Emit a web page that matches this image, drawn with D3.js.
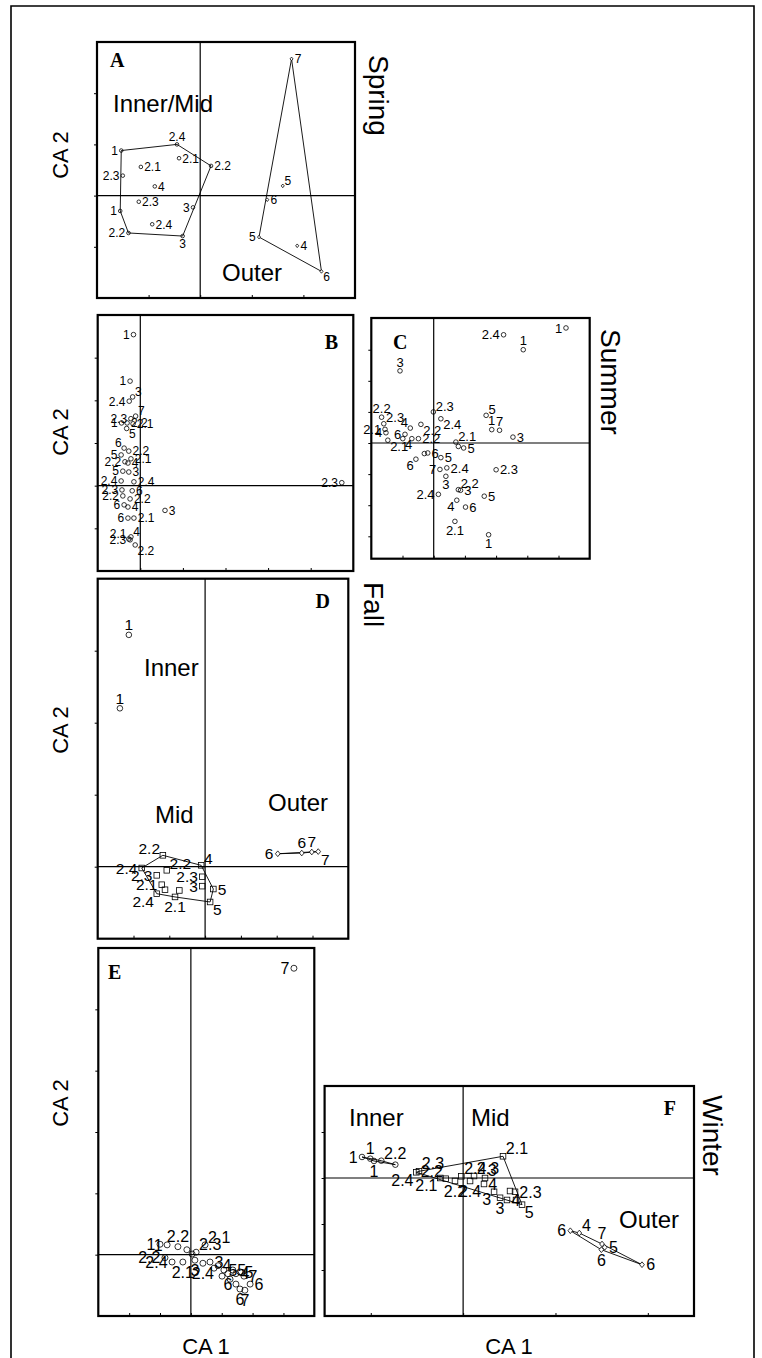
<!DOCTYPE html>
<html><head><meta charset="utf-8">
<script src="https://cdn.jsdelivr.net/npm/d3@7"></script>
<style>
body{margin:0;background:#fff}
svg{display:block}
text{font-family:"Liberation Sans",Arial,Helvetica,sans-serif;fill:#000}
</style></head>
<body><svg id="c" width="762" height="1358"></svg>
<script>
// ---------------- DATA (CA scores) ----------------
// Panel A - Spring
const A_lab = ["1","2.4","2.1","2.2","2.1","2.3","4","2.3","3","1","2.4","2.2","3","7","5","6","5","4","6"];
const A_ca1 = [-1.53,-0.45,-0.41,0.21,-1.15,-1.50,-0.88,-1.19,-0.14,-1.55,-0.93,-1.39,-0.34,1.77,1.60,1.30,1.14,1.88,2.35];
const A_ca2 = [0.88,1.00,0.73,0.58,0.56,0.39,0.18,-0.12,-0.23,-0.30,-0.56,-0.73,-0.79,2.67,0.19,-0.08,-0.81,-0.98,-1.48];
const A_grp = ["c","c","c","c","c","c","c","c","c","c","c","c","c","d","d","d","d","d","d"];
const A_side = ["l","t","r","r","r","l","r","r","l","l","r","l","b","r","tr","r","l","r","br"];

// Panel B - Summer
const B_lab = ["1","1","2.4","3","2.3","7","1","2.2","2.1","5","6","2.2","5","2.1","2.2","4","5","3","2.4","2.4","2.3","6","2.2","2.2","6","4","6","2.1","3","4","2.1","2.3","2.2","2.3"];
const B_ca1 = [-0.16,-0.24,-0.26,-0.18,-0.22,-0.11,-0.44,-0.31,-0.17,-0.32,-0.38,-0.27,-0.45,-0.22,-0.36,-0.29,-0.41,-0.27,-0.45,-0.15,-0.43,-0.19,-0.41,-0.24,-0.38,-0.29,-0.29,-0.15,0.58,-0.22,-0.27,-0.24,-0.12,4.73];
const B_ca2 = [3.54,2.45,1.98,2.08,1.57,1.63,1.47,1.47,1.45,1.34,0.88,0.81,0.72,0.63,0.56,0.53,0.34,0.32,0.11,0.09,-0.10,-0.12,-0.24,-0.31,-0.45,-0.50,-0.76,-0.76,-0.58,-1.20,-1.25,-1.27,-1.39,0.07];
const B_side = ["l","l","l","tr","l","tr","l","r","r","br","tl","r","l","r","l","r","l","r","l","r","l","r","l","r","l","r","l","r","r","tr","tl","l","br","l"];

// Panel C - Summer
const C_lab = ["2.4","1","1","3","2.2","2.3","5","2.4","2.3","4","2.1","4","6","4","","2.2","2.2","2.1","1","7","3","2.1","","5","6","5","6","7","2.4","2.3","3","2.2","3","2.4","5","4","6","2.1","1",""];
const C_ca1 = [2.24,4.24,2.87,-1.08,-1.67,-0.01,1.68,0.23,-1.60,-0.75,-1.56,-1.53,-0.92,-0.99,-0.70,-0.49,-0.41,-1.47,1.86,2.11,2.54,0.71,0.79,0.96,-0.19,0.23,-0.57,0.20,0.42,2.00,0.39,0.79,0.86,0.15,1.62,0.74,1.02,0.68,1.76,-0.30];
const C_ca2 = [3.48,3.70,3.00,2.32,0.83,1.00,0.89,0.78,0.62,0.48,0.44,0.33,0.28,0.14,0.14,0.14,0.60,0.09,0.43,0.41,0.19,0.03,-0.11,-0.16,-0.32,-0.47,-0.52,-0.85,-0.80,-0.86,-1.07,-1.50,-1.52,-1.65,-1.71,-1.84,-2.06,-2.52,-2.95,-0.34];
const C_side = ["l","l","t","t","t","tr","tr","br","tr","tl","l","l","l","br","r","r","br","br","t","t","r","tr","r","r","r","r","bl","l","r","r","b","tr","r","l","r","bl","r","b","b","r"];

// Panel D - Fall
const D_lab = ["1","1","2.2","2.4","2.2","4","2.3","2.3","2.1","3","","5","5","2.4","2.1","","6","6","7","7"];
const D_ca1 = [-2.13,-2.38,-1.18,-1.77,-1.07,-0.11,-1.35,-0.08,-1.21,-0.08,-0.72,0.23,0.14,-1.35,-0.84,-1.12,2.03,2.70,2.98,3.16];
const D_ca2 = [3.22,2.20,0.158,-0.018,-0.05,0.019,-0.12,-0.14,-0.25,-0.27,-0.33,-0.31,-0.49,-0.375,-0.42,-0.32,0.18,0.19,0.204,0.21];
const D_grp = ["c","c","s","s","s","s","s","s","s","s","s","s","s","s","s","s","d","d","d","d"];
const D_side = ["t","t","tl","l","tr","tr","l","l","l","l","r","r","br","bl","b","r","l","t","t","br"];

// Panel E
const E_lab = ["7","1","1","2.2","2.1","2.3","2.2","2.4","2.1","3","2.4","","","3","4","5","6","5","4","5","7","6","7","6","","","",""];
const E_ca1 = [3.34,-1.00,-0.77,-0.42,0.46,0.17,-0.84,-0.61,-0.26,0.13,0.39,-0.13,0.04,0.62,0.88,1.07,1.20,1.36,1.46,1.59,1.72,1.92,1.75,1.59,0.75,1.01,1.27,1.46];
const E_ca2 = [4.67,0.17,0.16,0.13,0.16,0.04,-0.05,-0.12,-0.12,-0.09,-0.14,0.08,0.01,-0.12,-0.18,-0.25,-0.31,-0.25,-0.31,-0.28,-0.35,-0.48,-0.58,-0.56,-0.22,-0.35,-0.40,-0.48];
const E_side = ["l","l","l","t","tr","tr","l","l","b","b","b","r","r","r","r","r","b","r","r","r","r","r","b","b","r","r","r","r"];

// Panel F - Winter
const F_lab = ["1","1","1","2.2","","2.3","2.4","2.1","2.1","2.2","2.4","2.2","2.4","2.3","4","3","3","4","2.3","5","","","3","6","4","7","5","6","6"];
const F_ca1 = [-1.095,-1.005,-0.965,-0.886,-0.734,-0.478,-0.507,0.432,-0.247,-0.188,-0.019,-0.088,0.075,0.118,0.226,0.335,0.40,0.475,0.562,0.638,0.573,0.508,0.237,1.161,1.258,1.504,1.533,1.497,1.937];
const F_ca2 = [0.457,0.42,0.37,0.376,0.29,0.146,0.124,0.472,0.0,-0.015,0.037,-0.065,-0.065,0.043,-0.13,-0.30,-0.43,-0.478,-0.30,-0.58,-0.478,-0.283,0.0,-1.146,-1.196,-1.435,-1.507,-1.559,-1.885];
const F_grp = ["c","c","c","c","c","s","s","s","s","s","s","s","s","s","s","s","s","s","s","s","s","s","s","d","d","d","d","d","d"];
const F_side = ["l","t","b","tr","r","tr","bl","tr","bl","tl","tr","b","b","tr","r","bl","b","r","r","br","r","r","tr","l","tr","t","r","b","r"];

const seasons = ["Spring","Summer","Fall","Winter"];
const axisTitleY = "CA 2", axisTitleX = "CA 1";

// ---------------- LAYOUT ----------------
const panels = [
 {L:"A", box:[97,42,355,298], xd:[-2,3], yd:[-2,3], fs:12, r:1.8,
  lab:A_lab, x:A_ca1, y:A_ca2, grp:A_grp, side:A_side, hull:true,
  letter:[110,67,"start"], notes:[["Inner/Mid",113,112],["Outer",222,281]]},
 {L:"B", box:[97.7,315,353.3,571], xd:[-1,5], yd:[-2,4], fs:12, r:2.3,
  lab:B_lab, x:B_ca1, y:B_ca2, grp:null, side:B_side, hull:false,
  letter:[338,349,"end"], notes:[]},
 {L:"C", box:[371.3,318,589.7,558.7], xd:[-2,5], yd:[-3.72,4.02], fs:13, r:2.3,
  lab:C_lab, x:C_ca1, y:C_ca2, grp:null, side:C_side, hull:false,
  letter:[393,349,"start"], notes:[]},
 {L:"D", box:[97.7,578.7,348.3,938.7], xd:[-3,4], yd:[-1,4], fs:15.5, r:2.8,
  lab:D_lab, x:D_ca1, y:D_ca2, grp:D_grp, side:D_side, hull:true,
  letter:[330,608,"end"], notes:[["Inner",144,676],["Mid",155,823],["Outer",268,811]]},
 {L:"E", box:[98.3,948,314.3,1316], xd:[-3,4], yd:[-1,5], fs:16, r:3,
  lab:E_lab, x:E_ca1, y:E_ca2, grp:null, side:E_side, hull:false,
  letter:[108,979,"start"], notes:[]},
 {L:"F", box:[324.6,1086,694,1316], xd:[-1.5,2.5], yd:[-3,2], fs:16, r:2.8,
  lab:F_lab, x:F_ca1, y:F_ca2, grp:F_grp, side:F_side, hull:true,
  letter:[676,1115,"end"], notes:[["Inner",349,1126],["Mid",471,1126],["Outer",619,1228]]}
];

const svg = d3.select("#c");
svg.append("rect").attr("width",762).attr("height",1358).attr("fill","#fff");
svg.append("path").attr("d","M11,1358 L11,6 L754,6 L754,1358")
  .attr("fill","none").attr("stroke","#000").attr("stroke-width",1.6);

function labelPos(side, px, py, r, fs){
  const cap = fs*0.72;
  switch(side){
    case "l":  return [px-r-1.5, py+cap/2, "end"];
    case "r":  return [px+r+1.5, py+cap/2, "start"];
    case "t":  return [px, py-r-2, "middle"];
    case "b":  return [px, py+r+cap+1.5, "middle"];
    case "tr": return [px+r, py-r+1, "start"];
    case "tl": return [px-r, py-r+1, "end"];
    case "br": return [px+r, py+r+cap-1, "start"];
    case "bl": return [px-r, py+r+cap-1, "end"];
  }
  return [px+r+1, py+cap/2, "start"];
}

panels.forEach(p => {
  const [x0,y0,x1,y1] = p.box;
  const xs = d3.scaleLinear().domain(p.xd).range([x0,x1]);
  const ys = d3.scaleLinear().domain(p.yd).range([y1,y0]);
  const g = svg.append("g");

  const xt = d3.range(Math.ceil(p.xd[0]), Math.floor(p.xd[1])+1).filter(v => xs(v)-x0>3 && x1-xs(v)>3);
  const yt = d3.range(Math.ceil(p.yd[0]), Math.floor(p.yd[1])+1).filter(v => ys(v)-y0>3 && y1-ys(v)>3);
  const ax = g.append("g").attr("transform",`translate(0,${y1})`)
    .call(d3.axisBottom(xs).tickValues(xt).tickSize(-3).tickFormat(""));
  const ay = g.append("g").attr("transform",`translate(${x0},0)`)
    .call(d3.axisLeft(ys).tickValues(yt).tickSize(3).tickFormat(""));
  [ax,ay].forEach(a => { a.select(".domain").remove(); a.selectAll("line").attr("stroke","#000").attr("stroke-width",1); });

  g.append("line").attr("x1",xs(0)).attr("x2",xs(0)).attr("y1",y0).attr("y2",y1)
    .attr("stroke","#000").attr("stroke-width",1.2);
  g.append("line").attr("x1",x0).attr("x2",x1).attr("y1",ys(0)).attr("y2",ys(0))
    .attr("stroke","#000").attr("stroke-width",1.2);

  const pts = p.lab.map((l,i) => ({lab:l, px:xs(p.x[i]), py:ys(p.y[i]),
     grp: p.grp ? p.grp[i] : "c", side:p.side[i]}));

  if (p.hull) {
    d3.groups(pts, d => d.grp).forEach(([k, arr]) => {
      if (arr.length < 3) return;
      const h = d3.polygonHull(arr.map(d => [d.px, d.py]));
      if (!h) return;
      g.append("path").attr("d", "M" + h.map(q => q.join(",")).join("L") + "Z")
        .attr("fill","none").attr("stroke","#000").attr("stroke-width",0.9);
    });
  }

  const r = p.r;
  pts.forEach(d => {
    if (d.grp === "s") {
      g.append("rect").attr("x",d.px-r).attr("y",d.py-r).attr("width",2*r).attr("height",2*r)
        .attr("fill","none").attr("stroke","#000").attr("stroke-width",0.8);
    } else if (d.grp === "d") {
      const rr = r*0.85;
      g.append("path").attr("d",`M${d.px},${d.py-rr*1.2}L${d.px+rr},${d.py}L${d.px},${d.py+rr*1.2}L${d.px-rr},${d.py}Z`)
        .attr("fill","#fff").attr("stroke","#000").attr("stroke-width",0.8);
    } else {
      g.append("circle").attr("cx",d.px).attr("cy",d.py).attr("r",r)
        .attr("fill","none").attr("stroke","#000").attr("stroke-width",0.8);
    }
  });

  pts.forEach(d => {
    if (!d.lab) return;
    const [tx,ty,anc] = labelPos(d.side, d.px, d.py, r, p.fs);
    g.append("text").attr("x",tx).attr("y",ty).attr("text-anchor",anc)
      .attr("font-size",p.fs).text(d.lab);
  });

  p.notes.forEach(n => {
    g.append("text").attr("x",n[1]).attr("y",n[2]).attr("font-size",24).text(n[0]);
  });

  g.append("text").attr("x",p.letter[0]).attr("y",p.letter[1]).attr("text-anchor",p.letter[2])
    .attr("font-weight","bold").attr("font-size",20)
    .style("font-family","'Liberation Serif','Times New Roman',serif").text(p.L);

  g.append("rect").attr("x",x0).attr("y",y0).attr("width",x1-x0).attr("height",y1-y0)
    .attr("fill","none").attr("stroke","#000").attr("stroke-width",2.2);
});

const seasonPos = [[369,55],[601,329],[364,582],[703,1095]];
seasons.forEach((s,i) => {
  svg.append("text").attr("transform",`translate(${seasonPos[i][0]},${seasonPos[i][1]}) rotate(90)`)
    .attr("font-size",28).text(s);
});

[155,432,730,1103].forEach(cy => {
  svg.append("text").attr("transform",`translate(68,${cy}) rotate(-90)`)
    .attr("text-anchor","middle").attr("font-size",22).text(axisTitleY);
});
[206,509].forEach(cx => {
  svg.append("text").attr("x",cx).attr("y",1354).attr("text-anchor","middle")
    .attr("font-size",22).text(axisTitleX);
});
</script>
</body></html>
